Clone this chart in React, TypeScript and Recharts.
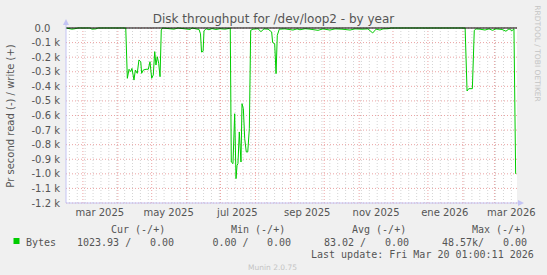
import React from "react";
import { CartesianGrid, Line, LineChart, ReferenceLine, XAxis, YAxis } from "recharts";

// x = days since 14 feb 2025 (left edge of the year graph), y = bytes/s read (drawn negative)
const days = [
  0, 5.3, 8, 10.6, 21.3, 23, 26.6, 28.4, 53, 54.4,
  55.9, 57.4, 58.5, 60.3, 61.5, 63.2, 64.7, 66.3, 67.1, 68.6,
  71, 73, 74.5, 76, 77.4, 78.7, 79.8, 81, 82.2, 83.4,
  84.5, 85.6, 95.8, 97.6, 99.3, 110, 111.8, 115.3, 118, 119.3,
  120.2, 121.6, 122.4, 124.2, 126.8, 129.5, 133, 136.6, 141, 145,
  145.7, 146.6, 148.1, 149.6, 150.8, 151.7, 152.5, 153.7, 155.2, 156.1,
  157.3, 158.5, 159.9, 161.2, 162.6, 163.8, 165.9, 170.3, 172.9, 175.6,
  179.2, 182.4, 183.3, 185.1, 186.3, 187.4, 189.2, 194.2, 201.3, 204.9,
  207.5, 212, 216.4, 223.5, 227.9, 234.1, 238.6, 244.8, 251.9, 256.3,
  262.5, 267.8, 272, 275, 278.5, 281.2, 285.6, 288.2, 354, 355.7,
  357.2, 360.4, 362.1, 363.6, 367.2, 371.6, 375.2, 378.3, 381.4, 386.7,
  390.2, 392.9, 395.6, 397.3, 398.8,
];
const reads = [
  0, -8, -5, 0, 0, -8, -6, 0, 0, -345,
  -283, -299, -277, -357, -288, -311, -219, -231, -311, -288,
  -283, -283, -231, -345, -322, -162, -254, -197, -242, -334,
  -14, 0, -8, -4, 0, -10, 0, -6, -10, -40,
  -165, -160, -20, -5, -12, -4, -10, -5, -8, -3,
  0, -919, -930, -588, -1033, -942, -930, -713, -919, -519,
  -553, -759, -850, -850, -690, -16, -8, -5, -25, -6,
  -8, -27, -100, -108, -313, -50, -8, -6, -14, -6,
  -12, -5, -8, -16, -6, -14, -6, -8, -14, -6,
  -8, -6, -34, -8, -14, -6, -5, 0, 0, -432,
  -416, -416, -16, -6, -8, -14, -6, -16, -6, -10,
  -22, -6, -18, -6, -1000,
];

const monthStarts = [15, 46, 76, 107, 137, 168, 199, 229, 260, 290, 321, 352, 380];
const weekStarts = Array.from({ length: 57 }, (_, i) => 3 + i * 7).filter((d) => !monthStarts.includes(d));
const labelDays = [30, 91, 152, 214, 275, 336, 395];
const labelNames = ["mar 2025", "may 2025", "jul 2025", "sep 2025", "nov 2025", "ene 2026", "mar 2026"];
const yTicks = [0, -100, -200, -300, -400, -500, -600, -700, -800, -900, -1000, -1100, -1200];

const legendHeads = ["Cur (-/+)", "Min (-/+)", "Avg (-/+)", "Max (-/+)"];
const legendReads = ["1023.93 /", "0.00 /", "83.02 /", "48.57k/"];
const legendWrites = ["0.00", "0.00", "0.00", "0.00"];
const headX = [111, 231, 352, 472];
const readX = [77, 212.5, 324, 442];
const writeX = [150, 267, 385, 503];

const data = days.map((d, i) => ({ day: d, read: reads[i] }));

const GREEN = "#00cc00";
const AXIS = "#c4c4f4";
const RED = "#eba3a3";
const TXT = "#555";
const sans = "DejaVu Sans, sans-serif";
const mono = "DejaVu Sans Mono, monospace";

const fmtY = (v: number) => (v === 0 ? "0.0\u00a0\u00a0\u00a0" : (v / 1000).toFixed(1) + " k");
const fmtX = (v: number) => labelNames[labelDays.indexOf(v)] ?? "";

export default function App() {
  return (
    <div style={{ position: "relative", width: 547, height: 275, background: "#f0f0f0" }}>
      <style>{`body{margin:0;background:#f0f0f0}`}</style>
      <LineChart width={547} height={275} data={data} margin={{ top: 28, right: 30, bottom: 0, left: 0 }}>
        <XAxis
          dataKey="day"
          type="number"
          domain={[0, 400]}
          ticks={labelDays}
          tickFormatter={fmtX}
          interval={0}
          height={72}
          tickLine={false}
          tickSize={4}
          tickMargin={2}
          axisLine={{ stroke: AXIS }}
          tick={{ fill: TXT, fontSize: 10, fontFamily: sans }}
        />
        <YAxis
          type="number"
          domain={[-1200, 0]}
          ticks={yTicks}
          interval={0}
          width={66}
          tickFormatter={fmtY}
          tickLine={false}
          tickSize={0}
          tickMargin={6}
          axisLine={{ stroke: AXIS }}
          tick={{ fill: TXT, fontSize: 10, fontFamily: sans }}
        />
        <CartesianGrid vertical={false} fill="#ffffff" stroke={RED} strokeDasharray="1 2" />
        {weekStarts.map((d) => (
          <ReferenceLine key={"w" + d} x={d} stroke="#d4d4d4" strokeDasharray="1 2" />
        ))}
        {monthStarts.map((d) => (
          <ReferenceLine key={"m" + d} x={d} stroke={RED} strokeDasharray="1 2" />
        ))}
        <Line
          type="linear"
          dataKey="read"
          stroke={GREEN}
          strokeWidth={1}
          dot={false}
          activeDot={false}
          isAnimationActive={false}
        />
        <ReferenceLine y={0} stroke="#000" strokeWidth={1} />
      </LineChart>
      <svg width={547} height={275} style={{ position: "absolute", left: 0, top: 0, pointerEvents: "none" }}>
        <polygon points="63,25 69,25 66,19" fill={AXIS} />
        <line x1={66} y1={22} x2={66} y2={28} stroke={AXIS} />
        <polygon points="518,200 518,206 524,203" fill={AXIS} />
        <line x1={517} y1={203} x2={520} y2={203} stroke={AXIS} />
        <text x={273.5} y={23} textAnchor="middle" fontSize={12} fontFamily={sans} fill={TXT}>
          Disk throughput for /dev/loop2 - by year
        </text>
        <text
          x={14}
          y={116}
          textAnchor="middle"
          fontSize={10}
          fontFamily={sans}
          fill={TXT}
          transform="rotate(-90 14 116)"
        >
          Pr second read (-) / write (+)
        </text>
        <text
          x={535}
          y={53.5}
          textAnchor="middle"
          fontSize={7.5}
          fontFamily={sans}
          fill="#c4c4c4"
          transform="rotate(90 535 53.5)"
        >
          RRDTOOL / TOBI OETIKER
        </text>
        {legendHeads.map((h, i) => (
          <text key={h} x={headX[i]} y={232.5} fontSize={10} fontFamily={mono} fill={TXT} xmlSpace="preserve">
            {h}
          </text>
        ))}
        <rect x={13.5} y={238} width={6} height={6} fill={GREEN} />
        <text x={26} y={245.5} fontSize={10} fontFamily={mono} fill={TXT}>
          Bytes
        </text>
        {legendReads.map((r, i) => (
          <text key={"r" + i} x={readX[i]} y={245.5} fontSize={10} fontFamily={mono} fill={TXT} xmlSpace="preserve">
            {r}
          </text>
        ))}
        {legendWrites.map((w, i) => (
          <text key={"w" + i} x={writeX[i]} y={245.5} fontSize={10} fontFamily={mono} fill={TXT}>
            {w}
          </text>
        ))}
        <text x={311} y={257.5} fontSize={10} fontFamily={mono} fill={TXT}>
          Last update: Fri Mar 20 01:00:11 2026
        </text>
        <text x={272.5} y={269.5} textAnchor="middle" fontSize={7.5} fontFamily={sans} fill="#c4c4c4">
          Munin 2.0.75
        </text>
      </svg>
    </div>
  );
}
